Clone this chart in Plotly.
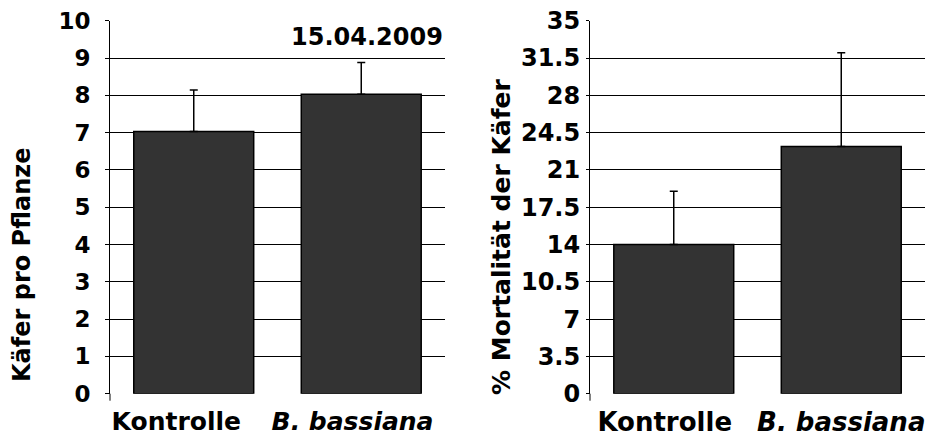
import plotly.graph_objects as go
from plotly.subplots import make_subplots

categories = ["Kontrolle", "B. bassiana"]
left_ticktext = ["Kontrolle\u00a0\u00a0\u00a0\u00a0", "<i>B. bassiana</i>\u00a0\u00a0"]
right_ticktext = ["Kontrolle\u00a0\u00a0", "<i>B. bassiana</i>"]
kaefer_values = [7.03, 8.03]
kaefer_err = [1.11, 0.85]
mort_values = [14.0, 23.2]
mort_err = [5.0, 8.8]
left_ticks = list(range(0, 11))
right_ticks = [0, 3.5, 7, 10.5, 14, 17.5, 21, 24.5, 28, 31.5, 35]
date_label = "15.04.2009"
left_title = "Käfer pro Pflanze"
right_title = "% Mortalität der Käfer"

FONT = "DejaVu Sans"
BAR = "#333333"
W, H = 926, 442


def px(x):
    return x / W


def py(y):
    return (H - y) / H


fig = make_subplots(rows=1, cols=2)

fig.add_trace(go.Bar(x=categories, y=kaefer_values, marker=dict(color=BAR, line=dict(color="black", width=1.5)),
                     error_y=dict(type="data", array=kaefer_err, symmetric=False, arrayminus=[0, 0],
                                  color="black", thickness=1.5, width=4)), row=1, col=1)
fig.add_trace(go.Bar(x=categories, y=mort_values, marker=dict(color=BAR, line=dict(color="black", width=1.5)),
                     error_y=dict(type="data", array=mort_err, symmetric=False, arrayminus=[0, 0],
                                  color="black", thickness=1.5, width=4)), row=1, col=2)

ydom = [py(393.7), py(20.7)]
fig.update_layout(
    width=W, height=H, margin=dict(l=0, r=0, t=0, b=0, autoexpand=False),
    plot_bgcolor="white", paper_bgcolor="white", showlegend=False, bargap=0.284,
    xaxis=dict(domain=[px(110), px(445)], showgrid=False, ticks="", showline=False, automargin=False,
               tickvals=categories, ticktext=left_ticktext, tickangle=0,
               tickfont=dict(family=FONT, size=25, color="black", weight="bold"), ticklabelstandoff=10),
    xaxis2=dict(domain=[px(590), px(925)], showgrid=False, ticks="", showline=False, automargin=False,
                tickvals=categories, ticktext=right_ticktext, tickangle=0,
                tickfont=dict(family=FONT, size=26, color="black", weight="bold"), ticklabelstandoff=10),
    yaxis=dict(domain=ydom, range=[0, 10], tickvals=left_ticks, showgrid=True, gridcolor="black", gridwidth=1,
               showline=True, linecolor="black", linewidth=1, ticks="outside", ticklen=4, tickcolor="black",
               zeroline=False, automargin=False, tickfont=dict(family=FONT, size=23, color="black", weight="bold"),
               ticklabelstandoff=10),
    yaxis2=dict(domain=ydom, range=[0, 35], tickvals=right_ticks, showgrid=True, gridcolor="black", gridwidth=1,
                showline=True, linecolor="black", linewidth=1, ticks="outside", ticklen=3, tickcolor="black",
                zeroline=False, automargin=False, tickfont=dict(family=FONT, size=24, color="black", weight="bold"),
                ticklabelstandoff=1),
)

# axis line stub below zero
for xr, yr in [("x domain", "y domain"), ("x2 domain", "y2 domain")]:
    fig.add_shape(type="line", xref=xr, yref=yr, x0=0, x1=0, y0=0, y1=-7 / 373,
                  line=dict(color="black", width=1))

fig.add_annotation(text=date_label, xref="x domain", yref="y domain", x=1, y=0.955,
                   xanchor="right", yanchor="middle", xshift=0, showarrow=False,
                   font=dict(family=FONT, size=24, color="black", weight="bold"))
fig.add_annotation(text=left_title, xref="paper", yref="paper", x=px(22), y=py(265),
                   textangle=-90, xanchor="center", yanchor="middle", showarrow=False,
                   font=dict(family=FONT, size=24, color="black", weight="bold"))
fig.add_annotation(text=right_title, xref="paper", yref="paper", x=px(501), y=py(237),
                   textangle=-90, xanchor="center", yanchor="middle", showarrow=False,
                   font=dict(family=FONT, size=25, color="black", weight="bold"))

fig.write_html("out.html", config={"displayModeBar": False},
               post_script="document.body.style.margin='0';document.body.style.overflow='hidden';")
